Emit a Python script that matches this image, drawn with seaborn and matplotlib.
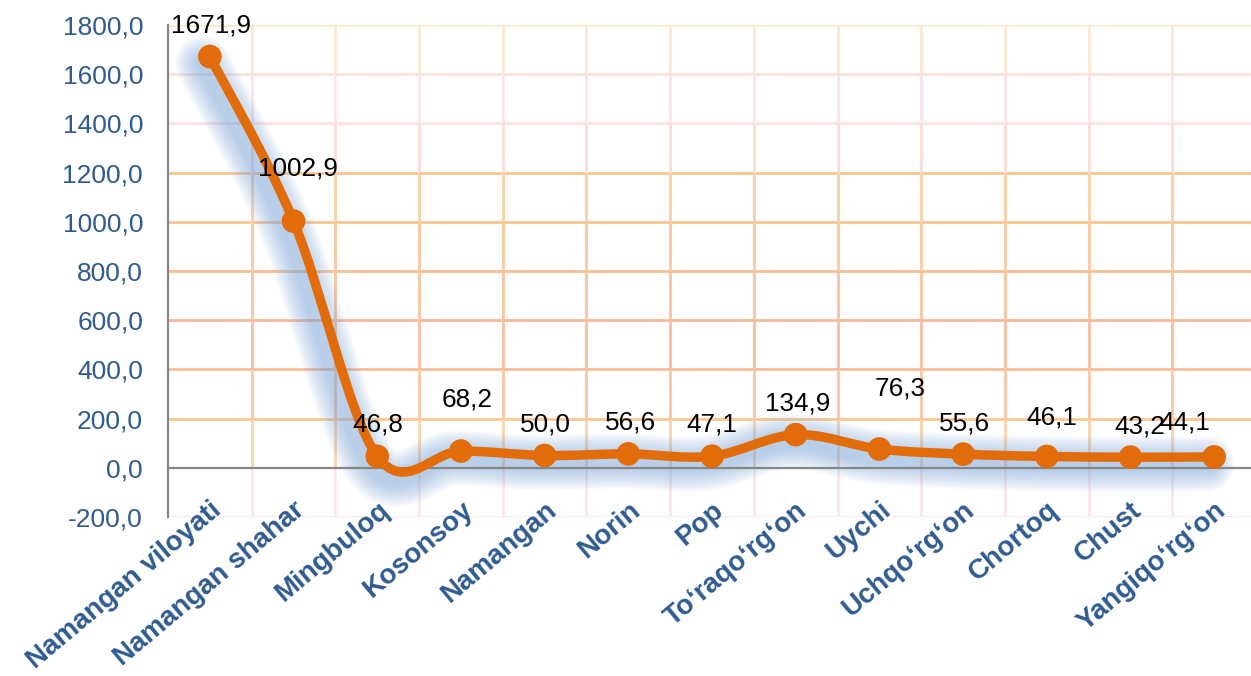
import numpy as np
import seaborn as sns
import matplotlib.pyplot as plt
import matplotlib.transforms as mtransforms
from matplotlib.path import Path
from matplotlib.patches import PathPatch

districts = ["Namangan viloyati", "Namangan shahar", "Mingbuloq", "Kosonsoy",
             "Namangan", "Norin", "Pop", "To\u2018raqo\u2018rg\u2018on", "Uychi",
             "Uchqo\u2018rg\u2018on", "Chortoq", "Chust", "Yangiqo\u2018rg\u2018on"]
values = [1671.9, 1002.9, 46.8, 68.2, 50.0, 56.6, 47.1, 134.9, 76.3, 55.6, 46.1, 43.2, 44.1]
y_ticks = [-200, 0, 200, 400, 600, 800, 1000, 1200, 1400, 1600, 1800]

# label offsets in pixels (dx, dy to baseline), as placed in the original
label_offsets = [(1, 24), (4, 46), (1, 25), (6, 45), (1, 24), (2, 24), (0, 25),
                 (2, 24), (21, 54), (1, 24), (5, 32), (9, 24), (-29, 27)]

# gradient-ish gridline colours, one per y tick
hgrid_colors = ["#FCE4EC", None, "#FAC88F", "#F8BC98", "#F8B89A", "#F9BF94",
                "#FAC58E", "#FAC68D", "#FCE1E4", "#FBE3DA", "#FCEACB"]
vgrid_colors = ["#FCE6EC", "#FAD3AE", "#F9C6A6", "#F8BFA2", "#F9C4A0", "#FAC9A2",
                "#FAD0A8", "#FBDCD6", "#FDE4EC", "#FCE8D2"]

text_blue = "#2F5B8F"
line_orange = "#E36C0A"
glow_blue = "#7EA8DC"

sns.set_style("white")
plt.rcParams["font.family"] = ["Liberation Sans", "DejaVu Sans"]

fig = plt.figure(figsize=(12.51, 6.76), dpi=100)
ax = fig.add_axes([0.1343, 0.2352, 0.8697, 0.7278])

x = np.arange(len(values))
ax.set_xlim(-0.5, len(values) - 0.5)
ax.set_ylim(-200, 1800)

# grid
for yv, c in zip(y_ticks, hgrid_colors):
    if c is not None:
        ax.axhline(yv, color=c, lw=2, zorder=0)
bounds = np.arange(0.5, len(values) - 0.5, 1)
for k in range(len(y_ticks) - 1):
    ax.vlines(bounds, y_ticks[k], y_ticks[k + 1], color=vgrid_colors[k], lw=2, zorder=0)

# smoothed line (Catmull-Rom as cubic bezier, like Excel's smoothed line)
n = len(values)
verts = [(x[0], values[0])]
codes = [Path.MOVETO]
for i in range(n - 1):
    a = i - 1 if i > 0 else i
    b = i + 2 if i + 2 < n else i + 1
    c1 = (x[i] + (x[i + 1] - x[a]) / 6, values[i] + (values[i + 1] - values[a]) / 6)
    c2 = (x[i + 1] - (x[b] - x[i]) / 6, values[i + 1] - (values[b] - values[i]) / 6)
    verts += [c1, c2, (x[i + 1], values[i + 1])]
    codes += [Path.CURVE4] * 3
path = Path(verts, codes)

# soft blue glow (blurred shadow) behind the line
shift = mtransforms.offset_copy(ax.transData, fig=fig, x=-7, y=-7, units="dots")
for w in np.arange(40, 8, -2):
    ax.add_patch(PathPatch(path, fill=False, ec=glow_blue, lw=w, alpha=0.045,
                           capstyle="round", joinstyle="round", transform=shift, zorder=1))

ax.add_patch(PathPatch(path, fill=False, ec=line_orange, lw=6.8,
                       capstyle="round", joinstyle="round", zorder=3))
sns.scatterplot(x=x, y=values, s=290, color=line_orange, edgecolor="none", ax=ax, zorder=4)

for xi, v, (dx, dy) in zip(x, values, label_offsets):
    ax.annotate(f"{v:.1f}".replace(".", ","), (xi, v), xytext=(dx, dy),
                textcoords="offset pixels", ha="center", va="baseline",
                fontsize=18.8, color="black", zorder=5)

# axes
for s in ["top", "right"]:
    ax.spines[s].set_visible(False)
ax.spines["bottom"].set_position(("data", 0))
for s in ["left", "bottom"]:
    ax.spines[s].set_color("#868686")
    ax.spines[s].set_linewidth(1.6)
    ax.spines[s].set_zorder(2)

ax.set_yticks(y_ticks)
ax.set_yticklabels([f"{t:.1f}".replace(".", ",") for t in y_ticks],
                   fontsize=19, color=text_blue)
ax.set_xticks(x)
ax.set_xticklabels(districts, rotation=40, ha="right", rotation_mode="anchor",
                   fontsize=20, fontweight="bold", color=text_blue)
ax.set_xticks(bounds, minor=True)
ax.tick_params(axis="x", which="major", direction="out", length=5, width=1.5,
               color="#868686", pad=16)
ax.tick_params(axis="x", which="minor", direction="out", length=5, width=1.5,
               color="#868686")
ax.tick_params(axis="y", direction="out", length=5, width=1.5, color="#868686", pad=13)
ax.set_xlabel("")
ax.set_ylabel("")

plt.savefig("out.png", dpi=100)
